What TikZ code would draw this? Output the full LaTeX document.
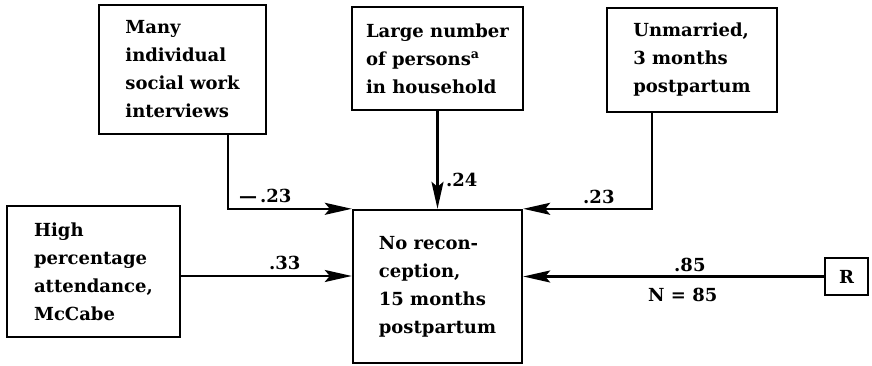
\documentclass[tikz,border=0pt]{standalone}
\usepackage{fontspec}
\setmainfont{DejaVu Serif}
\usetikzlibrary{arrows.meta}
\begin{document}
\begin{tikzpicture}[x=1pt,y=-1pt,line width=2.4pt,
  >={Stealth[length=27pt,width=12pt,inset=5pt]},
  font=\fontsize{18}{28}\selectfont\bfseries,
  box/.style={draw,align=left,inner sep=0pt},
  coef/.style={anchor=base west,inner sep=0pt}]
  \useasboundingbox (0,0) rectangle (872,366);

  % antecedents
  \node[box,minimum width=167pt,minimum height=129pt] (interv) at (182.5,69.5)
    {Many\\individual\\social work\\interviews};
  \node[box,minimum width=171pt,minimum height=103pt] (persons) at (437.5,58.5)
    {Large number\\of persons\textsuperscript{a}\\in household};
  \node[box,minimum width=170pt,minimum height=104pt] (unmarried) at (692,60)
    {Unmarried,\\3 months\\postpartum};
  \node[box,minimum width=173pt,minimum height=131pt] (attend) at (93.5,271.5)
    {High\\percentage\\attendance,\\McCabe};

  % outcome and residual
  \node[box,minimum width=169pt,minimum height=153pt] (recon) at (437.5,286.5)
    {No recon-\\ception,\\15 months\\postpartum};
  \node[box,minimum width=43pt,minimum height=37pt] (resid) at (846.5,276.5) {R};

  % paths
  \draw[->] ([xshift=45.5pt]interv.south) |- (recon.north west);
  \draw[->] (persons) -- (recon);
  \draw[->] ([xshift=-40pt]unmarried.south) |- (recon.north east);
  \draw[->] ([yshift=-4.5pt]attend.east) -- ([yshift=-4.5pt]attend.east -| recon.west);
  \draw[->] (resid.west) -- (resid.west -| recon.east);

  % path coefficients
  \node[coef] (cInterv) at (238,202) {---\,.23};
  \node[coef] (cPersons) at (445,186) {.24};
  \node[coef] (cUnmarried) at (582,204) {.23};
  \node[coef] (cAttend) at (268,269) {.33};
  \node[coef] (cResid) at (673,271) {.85};
  \node[coef] (nCases) at (647,301) {N = 85};
\end{tikzpicture}
\end{document}
